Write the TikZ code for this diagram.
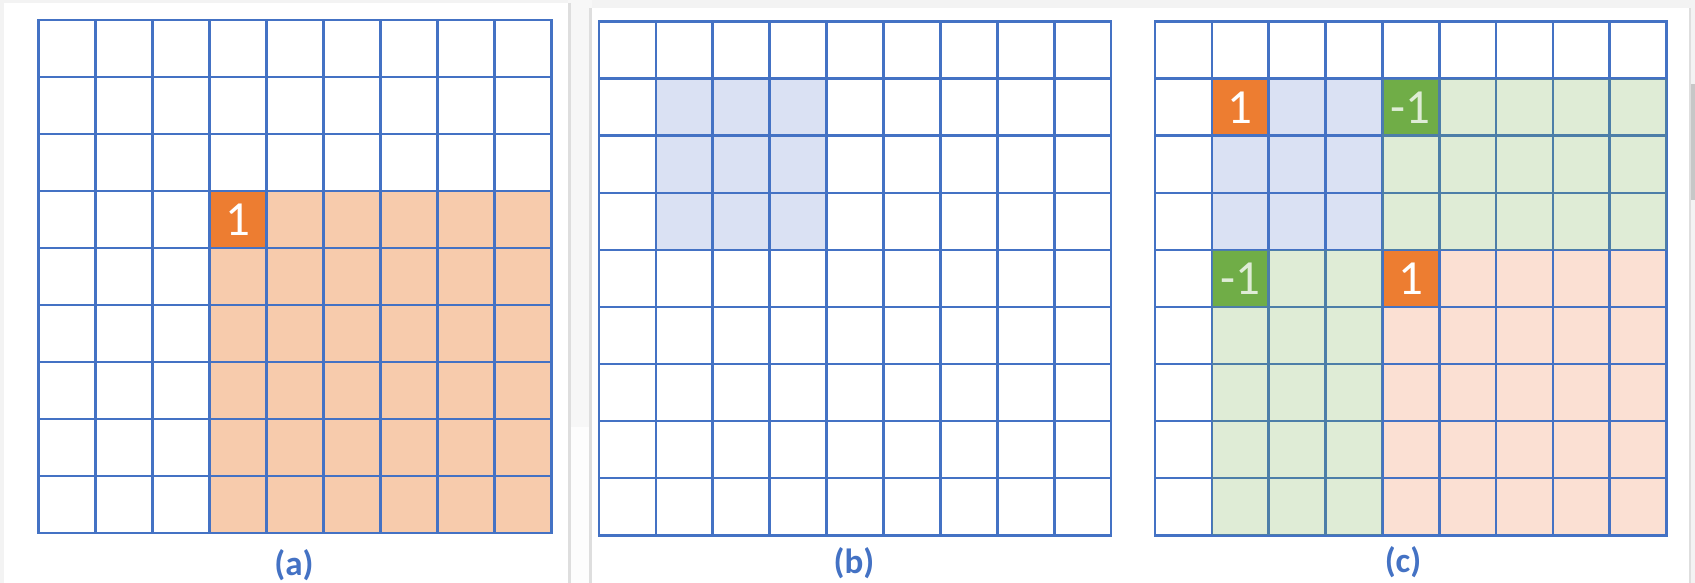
\documentclass[tikz,border=0pt]{standalone}
\usepackage{fontspec}
\setmainfont{Carlito}
\definecolor{gridblue}{HTML}{4472C4}
\definecolor{orfill}{HTML}{F7CBAC}
\definecolor{ordark}{HTML}{ED7D31}
\definecolor{orlight}{HTML}{FBE0D3}
\definecolor{bluelight}{HTML}{DAE1F3}
\definecolor{grdark}{HTML}{70AD47}
\definecolor{pagebg}{HTML}{F3F3F3}
\definecolor{gapbg}{HTML}{F7F7F7}
\definecolor{gaplow}{HTML}{FDFDFD}
\definecolor{shadow}{HTML}{DEDEDE}
\begin{document}
\begin{tikzpicture}[x=1pt,y=-1pt,
  gridline/.style={draw=gridblue, line width=2.7pt},
  num/.style={text=white, font=\fontsize{49}{49}\selectfont, inner sep=0pt},
  caplabel/.style={text=gridblue, font=\bfseries\fontsize{35}{35}\selectfont, inner sep=0pt},
  greenveil/.style={fill=grdark, fill opacity=0.22},
  panel/.style={fill=white}
]
\useasboundingbox (0,0) rectangle (1695,583);
% background and pages
\fill[pagebg] (0,0) rectangle (1695,583);
\fill[gapbg] (568,0) rectangle (592,427);
\fill[gaplow] (568,427) rectangle (592,583);
\fill[shadow] (568,3) rectangle (571,583);
\fill[shadow] (589,8) rectangle (592,583);
\fill[shadow] (1689,8) rectangle (1691,583);
\fill[panel] (3.8,3) rectangle (568,583);
\fill[panel] (592,8) rectangle (1689,583);
\fill[black!22] (1691,84) rectangle (1695,200);

% ---------- grid (a) ----------
\begin{scope}[shift={(38.3,20)}, x=57pt, y=-57pt]
  \fill[orfill] (3,3) rectangle (9,9);
  \fill[ordark] (3,3) rectangle (4,4);
  \foreach \k in {1,...,8} {
    \draw[gridline] (\k,0) -- (\k,9);
    \draw[gridline] (0,\k) -- (9,\k);
  }
  \draw[gridline] (0,0) rectangle (9,9);
  \node[num] (a1) at (3.5,3.5) {1};
\end{scope}
\node[caplabel] (capa) at (294,565) {(a)};

% ---------- grid (b) ----------
\begin{scope}[shift={(599,21.7)}, x=56.9pt, y=-57.05pt]
  \fill[bluelight] (1,1) rectangle (4,4);
  \foreach \k in {1,...,8} {
    \draw[gridline] (\k,0) -- (\k,9);
    \draw[gridline] (0,\k) -- (9,\k);
  }
  \draw[gridline] (0,0) rectangle (9,9);
\end{scope}
\node[caplabel] (capb) at (854,563) {(b)};

% ---------- grid (c) ----------
\begin{scope}[shift={(1155,21.7)}, x=56.85pt, y=-57.05pt]
  \fill[bluelight] (1,1) rectangle (4,4);
  \fill[orlight] (4,4) rectangle (9,9);
  \fill[ordark] (1,1) rectangle (2,2);
  \fill[ordark] (4,4) rectangle (5,5);
  \fill[grdark] (4,1) rectangle (5,2);
  \fill[grdark] (1,4) rectangle (2,5);
  \node[num] (c1) at (1.5,1.5) {1};
  \node[num] (c2) at (4.5,4.5) {1};
  \node[num] (cm1) at (4.5,1.5) {-1};
  \node[num] (cm2) at (1.5,4.5) {-1};
  \foreach \k in {1,...,8} {
    \draw[gridline] (\k,0) -- (\k,9);
    \draw[gridline] (0,\k) -- (9,\k);
  }
  \draw[gridline] (0,0) rectangle (9,9);
  \fill[greenveil] (4,1) rectangle (9,4);
  \fill[greenveil] (1,4) rectangle (4,9);
\end{scope}
\node[caplabel] (capc) at (1403,562) {(c)};
\end{tikzpicture}
\end{document}
